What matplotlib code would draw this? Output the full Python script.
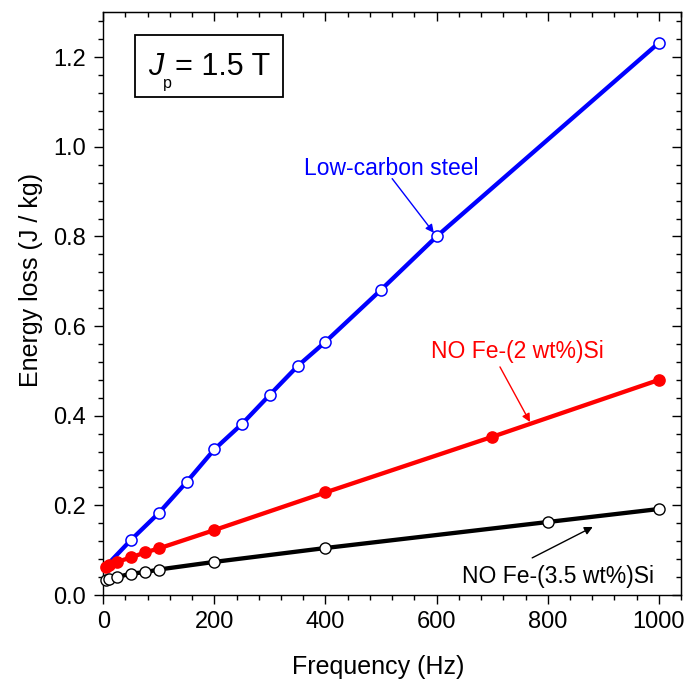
import numpy as np
import matplotlib
matplotlib.use("Agg")
import matplotlib.pyplot as plt
from matplotlib.ticker import MultipleLocator, NullFormatter
from matplotlib.patches import Rectangle

plt.rcParams['font.family'] = ['Liberation Sans', 'DejaVu Sans']

# Low-carbon steel (open blue circles); first point is line start only
steel_f = [0, 50, 100, 150, 200, 250, 300, 350, 400, 500, 600, 1000]
steel_e = [0.058, 0.123, 0.183, 0.252, 0.325, 0.382, 0.447, 0.511, 0.565, 0.681, 0.800, 1.232]

# NO Fe-(2 wt%)Si (filled red circles)
si2_f = [5, 10, 25, 50, 75, 100, 200, 400, 700, 1000]
si2_e = [0.063, 0.068, 0.074, 0.084, 0.095, 0.104, 0.145, 0.229, 0.353, 0.480]

# NO Fe-(3.5 wt%)Si (open black circles)
si35_f = [5, 10, 25, 50, 75, 100, 200, 400, 800, 1000]
si35_e = [0.033, 0.036, 0.040, 0.048, 0.051, 0.057, 0.074, 0.105, 0.163, 0.192]

fig = plt.figure(figsize=(6.88, 6.84), dpi=100)
ax = fig.add_axes([0.150, 0.130, 0.840, 0.852])

ax.plot(steel_f, steel_e, color='#0000ff', lw=3.1, zorder=2)
ax.plot(steel_f[1:], steel_e[1:], 'o', ms=8, mfc='white', mec='#0000ff', mew=1.1,
        zorder=5, clip_on=False)

ax.plot(si2_f, si2_e, color='#ff0000', lw=3.1, zorder=3)
ax.plot(si2_f, si2_e, 'o', ms=8, mfc='#ff0000', mec='#ff0000', mew=1.1,
        zorder=5, clip_on=False)

ax.plot(si35_f, si35_e, color='black', lw=3.1, zorder=3)
ax.plot(si35_f, si35_e, 'o', ms=8, mfc='white', mec='black', mew=1.0,
        zorder=5, clip_on=False)

ax.set_xlim(0, 1040)
ax.set_ylim(0, 1.30)

ax.xaxis.set_major_locator(MultipleLocator(200))
ax.xaxis.set_minor_locator(MultipleLocator(40))
ax.yaxis.set_major_locator(MultipleLocator(0.2))
ax.yaxis.set_minor_locator(MultipleLocator(0.04))
ax.yaxis.set_major_formatter(plt.FormatStrFormatter('%.1f'))

ax.tick_params(which='both', direction='out', top=False, right=False, labelsize=17, width=1)
ax.tick_params(which='major', length=6.5)
ax.tick_params(which='minor', length=3.8)
ax.tick_params(axis='x', pad=5)
ax.tick_params(axis='y', pad=6)

secx = ax.secondary_xaxis('top')
secx.xaxis.set_major_locator(MultipleLocator(200))
secx.xaxis.set_minor_locator(MultipleLocator(40))
secx.xaxis.set_major_formatter(NullFormatter())
secx.tick_params(which='both', direction='in', width=1)
secx.tick_params(which='major', length=6.5)
secx.tick_params(which='minor', length=3.8)

secy = ax.secondary_yaxis('right')
secy.yaxis.set_major_locator(MultipleLocator(0.2))
secy.yaxis.set_minor_locator(MultipleLocator(0.04))
secy.yaxis.set_major_formatter(NullFormatter())
secy.tick_params(which='both', direction='in', width=1)
secy.tick_params(which='major', length=6.5)
secy.tick_params(which='minor', length=3.8)

for sp in ax.spines.values():
    sp.set_linewidth(1)

ax.set_xlabel('Frequency (Hz)', fontsize=18)
ax.set_ylabel('Energy loss (J / kg)', fontsize=18)
ax.xaxis.set_label_coords(0.476, -0.102)
ax.yaxis.set_label_coords(-0.104, 0.54)

# annotations
arrow = dict(arrowstyle='-|>', lw=1, mutation_scale=12, shrinkA=0, shrinkB=0)

ax.text(519, 0.937, 'Low-carbon steel', color='#0000ff', fontsize=16.5,
        ha='center', va='baseline')
ax.annotate('', xy=(595, 0.808), xytext=(520, 0.929),
            arrowprops=dict(arrow, color='#0000ff'))

ax.text(745, 0.529, 'NO Fe-(2 wt%)Si', color='#ff0000', fontsize=16.5,
        ha='center', va='baseline')
ax.annotate('', xy=(768, 0.386), xytext=(714, 0.509),
            arrowprops=dict(arrow, color='#ff0000'))

ax.text(819, 0.027, 'NO Fe-(3.5 wt%)Si', color='black', fontsize=16.5,
        ha='center', va='baseline')
ax.annotate('', xy=(881, 0.152), xytext=(772, 0.083),
            arrowprops=dict(arrow, color='black'))

# J_p box
ax.add_patch(Rectangle((0.055, 0.854), 0.256, 0.107, transform=ax.transAxes,
                       fill=False, ec='black', lw=1.3, zorder=6))
ax.text(0.078, 0.892, 'J', style='italic', transform=ax.transAxes,
        fontsize=22, ha='left', va='baseline', zorder=7)
ax.text(0.104, 0.870, 'p', transform=ax.transAxes,
        fontsize=11.5, ha='left', va='baseline', zorder=7)
ax.text(0.1246, 0.892, '= 1.5 T', transform=ax.transAxes,
        fontsize=22, ha='left', va='baseline', zorder=7)

fig.savefig('out.png', dpi=100)
